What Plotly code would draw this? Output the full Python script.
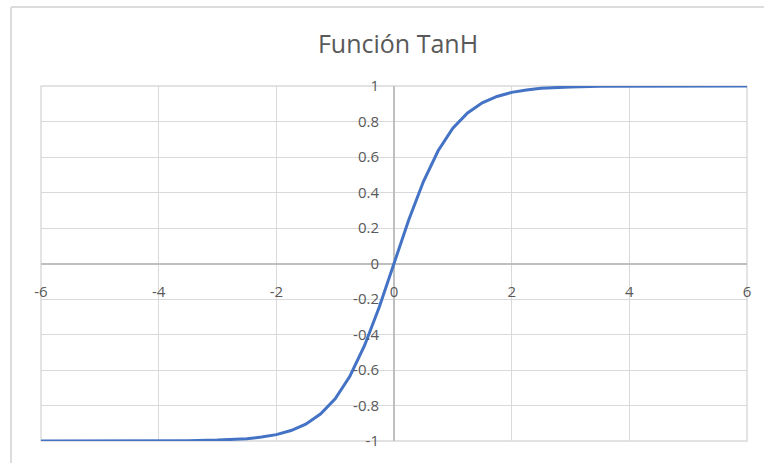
import plotly.graph_objects as go

# Sampled points of the hyperbolic tangent curve
x_vals = [-6, -5.5, -5, -4.5, -4, -3.5, -3, -2.75, -2.5, -2.25, -2, -1.75, -1.5, -1.25, -1,
          -0.75, -0.5, -0.25, 0, 0.25, 0.5, 0.75, 1, 1.25, 1.5, 1.75, 2, 2.25, 2.5, 2.75,
          3, 3.5, 4, 4.5, 5, 5.5, 6]
y_vals = [-1.000, -1.000, -1.000, -1.000, -0.999, -0.998, -0.995, -0.992, -0.987, -0.978, -0.964,
          -0.941, -0.905, -0.848, -0.762, -0.635, -0.462, -0.245, 0.000, 0.245, 0.462, 0.635,
          0.762, 0.848, 0.905, 0.941, 0.964, 0.978, 0.987, 0.992, 0.995, 0.998, 0.999, 1.000,
          1.000, 1.000, 1.000]

x_ticks = [-6, -4, -2, 0, 2, 4, 6]
x_tick_text = ["-6", "-4", "-2", "0", "2", "4", "6"]
y_ticks = [-1, -0.8, -0.6, -0.4, -0.2, 0, 0.2, 0.4, 0.6, 0.8, 1]
y_tick_text = ["-1", "-0.8", "-0.6", "-0.4", "-0.2", "0", "0.2", "0.4", "0.6", "0.8", "1"]

W, H = 764, 463
L, R, T, B = 41, 17, 86, 22
pw, ph = W - L - R, H - T - B

label_font = dict(family="Open Sans, Liberation Sans, sans-serif", size=15, color="#595959")
grid = "#d9d9d9"

fig = go.Figure()
fig.add_trace(go.Scatter(
    x=x_vals, y=y_vals, mode="lines",
    line=dict(color="#4472C4", width=3),
    hoverinfo="skip", showlegend=False,
))

fig.update_layout(
    width=W, height=H,
    margin=dict(l=L, r=R, t=T, b=B),
    paper_bgcolor="white", plot_bgcolor="white",
    title=dict(text="Función TanH", x=398 / W, xref="container", xanchor="center",
               y=1 - 44 / H, yref="container", yanchor="middle",
               font=dict(family="Open Sans, Liberation Sans, sans-serif", size=25, color="#595959")),
    xaxis=dict(range=[-6, 6], tickvals=x_ticks, ticktext=x_tick_text,
               showgrid=True, gridcolor=grid, gridwidth=1.3,
               zeroline=True, zerolinecolor="#bfbfbf", zerolinewidth=1.5,
               showline=False, anchor="free", position=0.5,
               ticks="outside", ticklen=14, tickcolor="rgba(0,0,0,0)",
               tickfont=label_font, fixedrange=True),
    yaxis=dict(range=[-1, 1], tickvals=y_ticks, ticktext=y_tick_text,
               showgrid=True, gridcolor=grid, gridwidth=1.3,
               zeroline=True, zerolinecolor="#bfbfbf", zerolinewidth=1.5,
               showline=False, anchor="free", position=0.5,
               ticks="outside", ticklen=12, tickcolor="rgba(0,0,0,0)",
               tickfont=label_font, fixedrange=True),
)

# plot-area border and the outer chart frame
fig.add_shape(type="rect", xref="paper", yref="paper", x0=0, y0=0, x1=1, y1=1,
              line=dict(color=grid, width=1.4), layer="below")
x_left = (11 - L) / pw
y_top = 1 + (T - 7) / ph
y_bot = -(B + 2) / ph
x_right = 1 + (R + 2) / pw
fig.add_shape(type="line", xref="paper", yref="paper", x0=x_left, y0=y_top, x1=x_right, y1=y_top,
              line=dict(color="#dcdcdc", width=2))
fig.add_shape(type="line", xref="paper", yref="paper", x0=x_left, y0=y_top, x1=x_left, y1=y_bot,
              line=dict(color="#dcdcdc", width=2))

fig.write_html("out.html")
